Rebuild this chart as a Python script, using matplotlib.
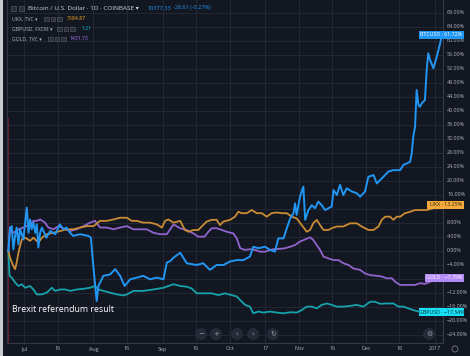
import matplotlib
matplotlib.use("Agg")
import matplotlib.pyplot as plt
from matplotlib.patches import Rectangle, Ellipse
from matplotlib.transforms import blended_transform_factory

plt.rcParams['font.family'] = ['Open Sans', 'DejaVu Sans']

# ---------------- data (days since 24 Jun 2016, % change) ----------------
btc_day = [0, 0.7, 1.5, 2.2, 3, 3.7, 4.5, 5.2, 6, 6.7, 7.5, 8.2, 9, 9.7, 10.4, 11.2, 12, 12.7, 13.4, 14.2,
           15, 17, 18.7, 21, 23, 24.6, 26, 27.6, 29, 32, 35.8, 36.9, 38, 39.5, 40.3, 42.5, 45.5, 47.8, 50, 52,
           54.5, 57.5, 60.4, 63.4, 66.4, 69.4, 70.9, 72.4, 73.9, 76.9, 79.8, 84.3, 87.2, 90.2, 93.2, 96.2, 99.2,
           102.2, 105.2, 108.1, 109.6, 111.9, 114.9, 117.1, 119.3, 120.8, 123.1, 124.6, 126.1, 127.6, 128.3,
           129, 130.5, 132, 132.8, 134.3, 135.8, 137.2, 138.7, 140.2, 141.7, 143.2, 144.7, 145.5, 147, 148.4,
           149.9, 151.4, 153.7, 155.9, 157.4, 159.6, 161.1, 163.4, 164.9, 167.8, 170.1, 172.3, 175.3, 176.8,
           178.3, 179.8, 180.5, 181.2, 182, 182.7, 183.5, 184.2, 185, 186.4, 187.2, 187.9, 188.7, 190.2,
           191.7, 193.2, 194]
btc_pct = [0, 6.7, 7.1, 0.5, 4.3, 6.7, 1.9, 6.2, 4.8, 3.3, 8.1, 12.4, 5.2, 9.0, 6.2, 8.1, 5.2, 7.6, 1.0, 5.2,
           6.7, 3.8, 5.7, 4.8, 7.6, 6.2, 6.7, 5.2, 4.3, 4.8, 4.3, 3.8, -4.3, -14.3, -10.0, -7.1, -6.7, -5.2,
           -7.1, -10.0, -8.1, -7.6, -7.1, -8.1, -7.6, -8.1, -3.3, -2.9, -1.9, -0.5, -3.5, -4.0, -3.5, -5.4,
           -4.0, -4.0, -3.0, -2.6, -2.6, -1.6, 1.2, 0.8, 1.2, 0.3, -0.2, 3.6, 3.6, 6.5, 9.3, 10.8, 13.6, 10.3,
           15.5, 18.4, 8.9, 11.7, 13.1, 12.2, 14.1, 13.1, 11.7, 12.2, 12.7, 17.4, 16.0, 18.9, 16.0, 17.9,
           17.0, 16.5, 15.5, 17.0, 21.2, 21.7, 19.3, 21.2, 22.7, 23.1, 23.1, 24.6, 25.0, 25.5, 27.9, 32.7,
           35.5, 46.0, 41.7, 41.2, 42.2, 43.1, 51.7, 56.5, 54.6, 52.2, 55.5, 59.3, 61.72]

ukx_day = [0, 0.7, 2.2, 3, 3.7, 4.5, 5.2, 6, 7.5, 9.7, 11.2, 13.4, 15, 17.2, 20.1, 23.1, 26.1, 29.1, 32.1,
           35.1, 38.1, 41, 44, 47, 50, 53, 55.2, 57.5, 60.4, 63.4, 66.4, 68.7, 70.1, 71.6, 73.9, 76.9, 79,
           80.5, 82.8, 85, 86.5, 88.7, 91, 93.2, 94.7, 96.2, 99.2, 101.4, 102.9, 104.4, 106.7, 108.9, 111.1,
           113.4, 115.6, 117.8, 120.1, 122.3, 124.6, 126.8, 129, 131.3, 133.5, 135, 136.5, 138, 139.5, 141,
           143.2, 144.7, 147, 149.9, 152.9, 155.9, 158.1, 161.1, 163.4, 165.6, 167.1, 168.6, 170.8, 172.3,
           173.8, 175.3, 177.5, 179.8, 182, 184.3, 187.2, 190.2, 194]
ukx_pct = [0, -1.9, -4.3, -5.2, -3.3, -0.5, 1.4, 3.3, 3.8, 2.9, 3.8, 2.4, 3.8, 4.8, 5.2, 5.7, 6.2, 6.2, 6.7,
           7.1, 7.1, 8.6, 8.6, 9.0, 9.5, 9.5, 8.6, 8.6, 8.1, 8.1, 7.6, 6.7, 8.6, 9.0, 8.1, 8.6, 6.0, 5.5, 6.0,
           6.0, 7.0, 8.4, 8.9, 8.9, 7.4, 8.4, 8.9, 9.8, 11.2, 10.8, 10.8, 11.7, 10.8, 10.8, 9.8, 10.8, 11.0,
           10.8, 10.8, 9.8, 9.3, 7.4, 5.5, 6.0, 8.0, 8.9, 7.4, 6.0, 6.0, 6.5, 7.0, 7.0, 7.9, 7.9, 7.0, 6.0,
           6.0, 7.0, 8.9, 9.8, 9.8, 8.9, 9.8, 9.8, 10.8, 11.2, 11.7, 11.7, 11.7, 12.2, 13.25]

gold_day = [0, 0.7, 2.2, 4.5, 6.7, 9.7, 11.2, 12.7, 14.2, 16.4, 17.9, 20.1, 22.4, 25.4, 27.6, 30.6, 33.6,
            36.6, 38.8, 41, 44, 47, 50, 53, 56, 59, 61.9, 64.9, 67.9, 70.9, 73.9, 76.8, 79.8, 82.8, 84.9,
            87.8, 89.5, 91, 93.2, 95.5, 97.7, 100.7, 102.2, 103.7, 105.9, 108.1, 110.4, 112.6, 114.9, 117.1,
            119.3, 121.6, 123.8, 126.1, 128.3, 130.5, 132.8, 135, 136.5, 138, 139.5, 141, 143.2, 145.5, 147.7,
            149.9, 152.2, 154.4, 157.4, 159.6, 161.9, 164.9, 167.1, 169.3, 171.6, 173.1, 175.3, 177.5, 179.8,
            182, 184.3, 186.4, 188.7, 191, 194]
gold_pct = [0, 6.2, 5.2, 6.2, 6.7, 7.6, 8.6, 8.6, 9.0, 8.1, 6.7, 6.2, 7.1, 6.2, 5.7, 6.2, 7.1, 8.1, 8.6, 6.7,
            6.7, 6.2, 6.7, 7.1, 6.2, 6.2, 6.2, 5.2, 4.8, 4.8, 7.6, 6.5, 6.0, 5.0, 4.1, 4.1, 5.5, 6.5, 6.5, 6.0,
            5.5, 5.0, 3.6, 0.8, 0.3, 0.5, 0.3, -0.2, -0.2, 0.3, 0.6, 0.6, 0.8, 1.2, 1.7, 2.7, 3.3, 3.9, 3.1,
            1.7, 0.3, -1.6, -2.1, -2.6, -2.6, -3.5, -4.0, -5.0, -5.4, -6.4, -6.9, -7.1, -7.3, -7.8, -7.8,
            -8.8, -9.7, -9.7, -9.7, -9.7, -9.2, -9.4, -8.8, -8.2, -7.79]

gbp_day = [0, 0.5, 1.5, 3, 4.5, 6, 7.5, 9.7, 11.2, 12.7, 14.9, 17.2, 19.4, 20.9, 23.1, 25.4, 27.6, 30.6,
           33.6, 36.6, 38.8, 40.3, 42.5, 45.5, 48.5, 51.5, 53, 56, 60.4, 64.9, 69.4, 73.9, 76.9, 79.8, 82,
           84.3, 87.2, 91, 94, 97, 99.9, 102.2, 103.7, 105.9, 108.1, 109.6, 111.9, 114.1, 117.1, 120.1, 123.1,
           126.1, 129, 131.3, 133.5, 135.8, 138, 140.2, 142.5, 144.7, 147, 149.9, 152.9, 155.9, 158.9, 161.9,
           164.1, 166.4, 169.3, 172.3, 174.6, 176.8, 179, 181.3, 183.5, 188, 194]
gbp_pct = [0, -7.1, -7.6, -9.0, -10.0, -9.5, -10.5, -10.0, -11.0, -12.4, -12.4, -11.9, -10.5, -11.4, -11.0,
           -11.0, -11.4, -11.0, -10.8, -10.5, -10.0, -11.0, -11.4, -11.9, -12.4, -12.7, -12.4, -11.4, -11.4,
           -11.0, -10.5, -9.5, -10.0, -10.2, -10.7, -12.1, -12.1, -12.1, -12.6, -12.1, -12.6, -13.0, -14.0,
           -15.4, -15.9, -17.8, -17.3, -17.6, -17.3, -17.6, -17.8, -17.5, -17.6, -16.9, -15.9, -15.9, -16.4,
           -15.4, -15.0, -15.4, -15.9, -15.9, -15.7, -15.4, -15.9, -14.5, -14.5, -15.1, -15.0, -15.0, -15.9,
           -15.9, -16.4, -16.9, -17.3, -17.5, -17.54]

tick_days = [7, 22, 38, 53, 69, 84, 99, 115, 130, 145, 160, 175, 191]
tick_labels = ['Jul', '16', 'Aug', '16', 'Sep', '16', 'Oct', '17', 'Nov', '16', 'Dec', '16', '2017']
pct_ticks = list(range(-24, 69, 4))

# ---------------- styling ----------------
W, H = 470, 356
BG = '#131722'
GRID = '#232734'
TXT = '#b2b5be'
C_BTC = '#2196f3'
C_UKX = '#c98c33'
C_GOLD = '#9064cc'
C_GBP = '#17a3ab'

def fx(x):
    return x / W

def fy(y):
    return 1 - y / H

fig = plt.figure(figsize=(W / 100, H / 100), dpi=100)
fig.patch.set_facecolor(BG)

ax = fig.add_axes([7 / W, 13 / H, 436 / W, 343 / H])
ax.set_facecolor(BG)
ax.set_xlim(-0.63, 194.5)
ax.set_ylim(-26.29, 71.71)
ax.set_xticks(tick_days)
ax.set_yticks(pct_ticks)
ax.tick_params(length=0, labelbottom=False, labelleft=False)
ax.grid(True, color=GRID, lw=0.8)
ax.spines['top'].set_visible(False)
ax.spines['left'].set_color('#2f3341')
ax.spines['right'].set_color('#363a45')
ax.spines['bottom'].set_color('#363a45')
for s in ['left', 'right', 'bottom']:
    ax.spines[s].set_linewidth(0.8)

# Brexit marker line
ax.plot([0, 0], [-26.29, 37.7], color='#7d1c2e', lw=1.2, zorder=2)

ax.plot(gbp_day, gbp_pct, color=C_GBP, lw=1.3, zorder=3)
ax.plot(gold_day, gold_pct, color=C_GOLD, lw=1.3, zorder=3)
ax.plot(ukx_day, ukx_pct, color=C_UKX, lw=1.3, zorder=3)
ax.plot(btc_day, btc_pct, color=C_BTC, lw=1.4, zorder=4)

# right axis labels
tr = blended_transform_factory(ax.transAxes, ax.transData)
for v in pct_ticks:
    if v in (12, -8):
        continue
    lab = f"{v:.2f}%".replace('-', '\u2212')
    ax.text(1 + 4 / 436, v, lab, transform=tr, fontsize=3.9, color=TXT,
            va='center', ha='left', clip_on=False)

# x tick labels
trx = blended_transform_factory(ax.transData, ax.transAxes)
for d, lab in zip(tick_days, tick_labels):
    ax.text(d, -6 / 343, lab, transform=trx, fontsize=3.9, color=TXT,
            va='center', ha='center', clip_on=False)

# price labels
def price_label(y, text, fc, tc, x0):
    fig.patches.append(Rectangle((fx(x0), fy(y + 4)), fx(464) - fx(x0), 8 / H,
                                 transform=fig.transFigure, fc=fc, ec='none', zorder=10))
    fig.text(fx((x0 + 464) / 2), fy(y), text, fontsize=3.8, color=tc,
             ha='center', va='center', zorder=11)

price_label(35, 'BTCUSD \u00b7 61.72%', '#2196f3', 'white', 419)
price_label(204.5, 'UKX \u00b7 13.25%', '#f5a93b', '#2a2410', 427)
price_label(277.5, 'GOLD \u00b7 \u22127.79%', '#b38af5', 'white', 425)
price_label(312, 'GBPUSD \u00b7 \u221217.54%', '#16e0f5', '#0d2a30', 419)

# legend header
fig.text(fx(28), fy(8), 'Bitcoin / U.S. Dollar \u00b7 1D \u00b7 COINBASE \u25be', fontsize=4.6,
         color='#d1d4dc', va='center', ha='left')
fig.text(fx(148), fy(8), '10377.33', fontsize=4.0, color=C_BTC, va='center', ha='left')
fig.text(fx(173), fy(8), '-28.61 (-0.27%)', fontsize=4.0, color=C_BTC, va='center', ha='left')

def icon(x, y, size=5):
    fig.patches.append(Rectangle((fx(x), fy(y + size / 2)), size / W, size / H,
                                 transform=fig.transFigure, fc='#2a2e39', ec='#5d606b',
                                 lw=0.4, zorder=5))

icon(11, 8)
icon(19, 8)

rows = [
    (19, 'UKX, TVC \u25be', 44, '7584.87', 67, '#f5a623'),
    (29, 'GBPUSD, FXCM \u25be', 57, '1.21', 82, '#00bcd4'),
    (39, 'GOLD, TVC \u25be', 48, '1431.73', 70, '#a675f0'),
]
for y, name, ix, val, vx, vc in rows:
    fig.text(fx(12), fy(y), name, fontsize=3.7, color='#b2b5be', va='center', ha='left')
    for k in range(3):
        icon(ix + k * 6.5, y, 4.5)
    fig.text(fx(vx), fy(y), val, fontsize=3.7, color=vc, va='center', ha='left')

# annotation
fig.text(fx(12), fy(310), 'Brexit referendum result', fontsize=6.3, color='white',
         va='center', ha='left')

# nav buttons
for x, sym in [(201, '\u2212'), (216, '+'), (237, '\u2039'), (253, '\u203a'), (273, '\u21bb')]:
    fig.patches.append(Ellipse((fx(x), fy(334)), 12 / W, 12 / H, transform=fig.transFigure,
                               fc='#262a36', ec='none', zorder=6))
    fig.text(fx(x), fy(334), sym, fontsize=5, color='#9598a1', ha='center', va='center',
             zorder=7, family=['DejaVu Sans'])
fig.patches.append(Ellipse((fx(429), fy(334)), 12 / W, 12 / H, transform=fig.transFigure,
                           fc='#262a36', ec='none', zorder=6))
fig.text(fx(429), fy(334), '\u2699', fontsize=5, color='#9598a1', ha='center', va='center',
         zorder=7, family=['DejaVu Sans'])
fig.patches.append(Ellipse((fx(455), fy(349)), 6 / W, 6 / H, transform=fig.transFigure,
                           fc='none', ec='#787b86', lw=0.6, zorder=6))

# light left border
fig.patches.append(Rectangle((0, 0), 2.5 / W, 1, transform=fig.transFigure,
                             fc='#c9cbd0', ec='none', zorder=12))

fig.savefig('out.png', dpi=100, facecolor=BG)
